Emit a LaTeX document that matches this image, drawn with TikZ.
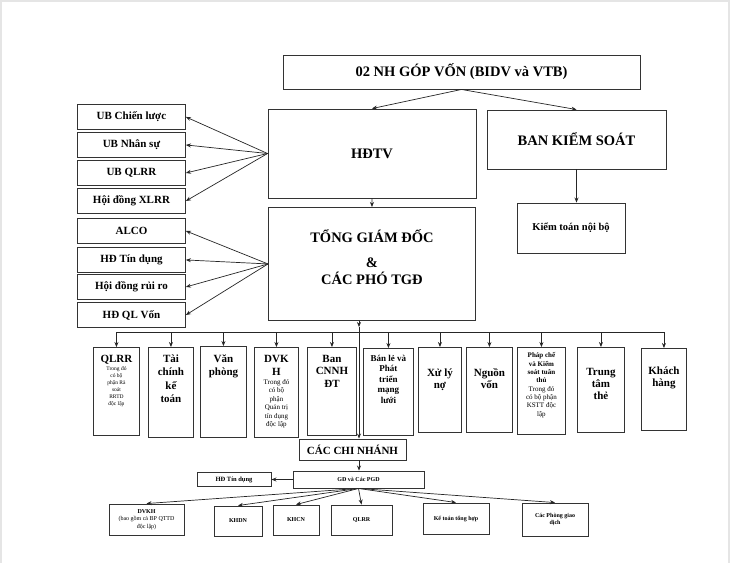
\documentclass[tikz,border=0pt]{standalone}
\usepackage{fontspec}
\setmainfont{Liberation Serif}
\usetikzlibrary{arrows.meta}
\newcommand{\fTit}{\bfseries\fontsize{11}{13.5}\selectfont}
\newcommand{\fSub}{\mdseries\fontsize{5.5}{7}\selectfont}
\newcommand{\fSubb}{\mdseries\fontsize{7}{8.5}\selectfont}
\newcommand{\fir}[1]{\rule{0pt}{#1pt}}
\newcommand{\dbox}[3]{\begin{minipage}[t][#2pt][t]{#1pt}\centering #3\par\end{minipage}}
\begin{document}
\begin{tikzpicture}[x=1pt,y=-1pt,
 box/.style={draw=black!80, line width=0.9pt, inner sep=0pt, align=center},
 lbox/.style={box, anchor=north west, minimum width=108pt, minimum height=25pt, font=\bfseries\fontsize{11}{13}\selectfont},
 dept/.style={box, anchor=north west},
 bbox/.style={box, font=\bfseries\fontsize{6}{7.5}\selectfont},
 arr/.style={draw=black!85, line width=0.7pt, -{Stealth[length=5pt,width=4pt]}},
 ln/.style={draw=black!85, line width=0.7pt},
 frame/.style={draw=black!10, line width=2pt}]
\useasboundingbox (0,0) rectangle (732,563);
\fill[white] (0,0) rectangle (732,563);
\draw[frame] (1,563) -- (1,1) -- (729,1) -- (729,563);

% top level
\node[box, minimum width=357pt, minimum height=34pt, font=\bfseries\fontsize{14.5}{17}\selectfont] (top) at (461.5,72) {02 NH GÓP VỐN (BIDV và VTB)};
\node[box, minimum width=208pt, minimum height=89pt, font=\bfseries\fontsize{14.5}{17}\selectfont] (hdtv) at (372,153.5) {HĐTV};
\node[dept] (tgd) at (268,207) {\dbox{207}{113}{\bfseries\fontsize{14.5}{17}\selectfont\fir{35}TỔNG GIÁM ĐỐC\\[8pt] \&\\ CÁC PHÓ TGĐ}};
\node[box, minimum width=179pt, minimum height=59pt, font=\bfseries\fontsize{14.5}{17}\selectfont] (bks) at (576.5,139.5) {BAN KIỂM SOÁT};
\node[box, minimum width=108pt, minimum height=50pt, font=\bfseries\fontsize{10.5}{12}\selectfont] (ktnb) at (571,228) {Kiểm toán nội bộ};

\draw[arr] (top.south) -- (hdtv.north);
\draw[arr] (top.south) -- (bks.north);
\draw[arr] (hdtv.south) -- (tgd.north);
\draw[arr] (bks.south) -- (bks.south |- ktnb.north);

% left committees
\node[lbox] (l1) at (77,104) {UB Chiến lược};
\node[lbox] (l2) at (77,132) {UB Nhân sự};
\node[lbox] (l3) at (77,160) {UB QLRR};
\node[lbox] (l4) at (77,188) {Hội đồng XLRR};
\node[lbox] (l5) at (77,218) {ALCO};
\node[lbox] (l6) at (77,247) {HĐ Tín dụng};
\node[lbox] (l7) at (77,274) {Hội đồng rủi ro};
\node[lbox] (l8) at (77,302) {HĐ QL Vốn};
\foreach \i in {1,...,4} \draw[arr] (hdtv.west) -- (l\i.east);
\foreach \i in {5,...,8} \draw[arr] (tgd.west) -- (l\i.east);

% departments
\node[dept] (d1) at (93,347) {\dbox{46}{88}{{\fTit\fir{14.6}QLRR\par}\vspace{1pt}{\fSub Trong đó\\có bộ\\phận Rà\\soát\\RRTD\\độc lập\par}}};
\node[dept] (d2) at (148,347) {\dbox{45}{90}{\fTit\fir{14.6}Tài\\chính\\kế\\toán}};
\node[dept] (d3) at (200,346) {\dbox{46}{91}{\fTit\fir{15.6}Văn\\phòng}};
\node[dept] (d4) at (254,347) {\dbox{44}{90}{{\fTit\fir{14.6}DVK\\H\par}{\fSubb Trong đó\\có bộ\\phận\\Quản trị\\tín dụng\\độc lập\par}}};
\node[dept] (d5) at (307,347) {\dbox{49}{88}{\bfseries\fontsize{11}{12.5}\selectfont\fir{14.6}Ban\\CNNH\\ĐT}};
\node[dept] (d6) at (363,348) {\dbox{50}{87}{\bfseries\fontsize{9}{10.5}\selectfont\fir{13}Bán lẻ và\\Phát\\triển\\mạng\\lưới}};
\node[dept] (d7) at (418,347) {\dbox{43}{85}{\bfseries\fontsize{11}{12}\selectfont\fir{28.6}Xử lý\\nợ}};
\node[dept] (d8) at (466,347) {\dbox{46}{85}{\bfseries\fontsize{11}{12}\selectfont\fir{28.6}Nguồn\\vốn}};
\node[dept] (d9) at (517,347) {\dbox{48}{87}{\fontsize{7}{8.3}\selectfont{\bfseries\fir{10.5}Pháp chế\\và Kiểm\\soát tuân\\thủ\par}{\mdseries Trong đó\\có bộ phận\\KSTT độc\\lập\par}}};
\node[dept] (d10) at (577,347) {\dbox{47}{85}{\bfseries\fontsize{11}{12}\selectfont\fir{28}Trung\\tâm\\thẻ}};
\node[dept] (d11) at (641,348) {\dbox{45}{82}{\bfseries\fontsize{11}{12}\selectfont\fir{25.6}Khách\\hàng}};

\coordinate (bus) at (0,332);
\draw[ln] (d1.north |- bus) -- (d11.north |- bus);
\foreach \i in {1,...,11} \draw[arr] (d\i.north |- bus) -- (d\i.north);

% branches
\node[box, minimum width=107pt, minimum height=21pt, font=\bfseries\fontsize{11}{13}\selectfont] (ccn) at (352.5,449.5) {CÁC CHI NHÁNH};
\node[box, minimum width=131pt, minimum height=17pt, font=\bfseries\fontsize{6}{7}\selectfont] (gd) at (358.5,479.5) {GĐ và Các PGD};
\node[box, minimum width=74pt, minimum height=14pt, font=\bfseries\fontsize{6.5}{7}\selectfont] (hdtd) at (234,479.5) {HĐ Tín dụng};

\coordinate (tr1) at (359,327);
\draw[arr] (tgd.south -| tr1) -- (tr1);
\draw[arr] (tr1) -- (tr1 |- ccn.north);
\draw[arr] (tr1 |- ccn.south) -- (tr1 |- gd.north);
\draw[arr] (gd.west) -- (hdtd.east);

\node[bbox, minimum width=75pt, minimum height=31pt] (b1) at (146.5,519.5) {DVKH\\{\mdseries (bao gồm cả BP QTTD}\\{\mdseries độc lập)}};
\node[bbox, minimum width=48pt, minimum height=30pt] (b2) at (238,521) {KHDN};
\node[bbox, minimum width=46pt, minimum height=30pt] (b3) at (296,520) {KHCN};
\node[bbox, minimum width=61pt, minimum height=30pt] (b4) at (361.5,520) {QLRR};
\node[bbox, minimum width=66pt, minimum height=31pt] (b5) at (456,518.5) {Kế toán tổng hợp};
\node[bbox, minimum width=66pt, minimum height=33pt] (b6) at (555,519.5) {Các Phòng giao\\dịch};
\foreach \i in {1,...,6} \draw[arr] (gd.south) -- (b\i.north);
\end{tikzpicture}
\end{document}
